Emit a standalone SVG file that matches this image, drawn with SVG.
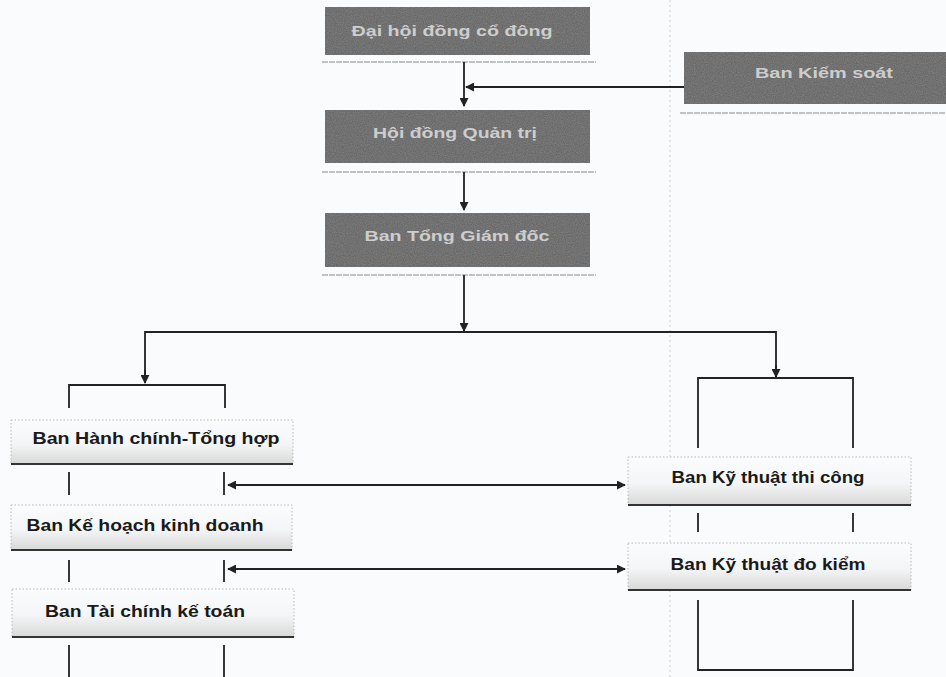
<svg xmlns="http://www.w3.org/2000/svg" width="946" height="677" viewBox="0 0 946 677">
<defs>
<filter id="noise" x="0" y="0" width="100%" height="100%">
<feTurbulence type="fractalNoise" baseFrequency="0.9" numOctaves="2" seed="3" result="t"/>
<feColorMatrix in="t" type="matrix" values="0 0 0 0 0.35  0 0 0 0 0.35  0 0 0 0 0.35  0 0 0 -1.2 1.1" result="n"/>
<feComposite in="n" in2="SourceGraphic" operator="in"/>
</filter>
<linearGradient id="lg" x1="0" y1="0" x2="0" y2="1">
<stop offset="0" stop-color="#fbfcfd"/>
<stop offset="0.55" stop-color="#f4f5f6"/>
<stop offset="1" stop-color="#d8d8d8"/>
</linearGradient>
<marker id="ah" viewBox="0 0 10 10" refX="9" refY="5" markerWidth="9" markerHeight="9" markerUnits="userSpaceOnUse" orient="auto-start-reverse">
<path d="M0,0 L10,5 L0,10 z" fill="#222"/>
</marker>
</defs>
<style>
.dark{fill:#626262;}
.dtxt{font-family:"Liberation Sans",Arial,sans-serif;font-size:15px;fill:#cdcdcd;text-anchor:middle;font-weight:bold;}
.light{fill:url(#lg);stroke:#b8b8b8;stroke-width:1;stroke-dasharray:1.5 2;}
.base{stroke:#333;stroke-width:2;fill:none;}
.ltxt{font-family:"Liberation Sans",Arial,sans-serif;font-size:17px;fill:#1a1a1a;text-anchor:middle;font-weight:bold;}
.ln{stroke:#222;stroke-width:1.8;fill:none;}
.ul{stroke:#888;stroke-width:1;stroke-dasharray:6 1;}
.guide{stroke:#cfcfcf;stroke-width:1;stroke-dasharray:2 3;}
</style>
<rect width="946" height="677" fill="#fafbfc"/>
<line class="guide" x1="670" y1="0" x2="670" y2="677"/>

<g id="n-dhdcd">
<rect class="dark" x="325" y="7" width="265" height="48"/>
<rect x="325" y="7" width="265" height="48" fill="#000" filter="url(#noise)" opacity="0.5"/>
<text class="dtxt" x="452" y="36" textLength="201" lengthAdjust="spacingAndGlyphs">Đại hội đồng cổ đông</text>
<line class="ul" x1="322" y1="62" x2="596" y2="62"/>
</g>
<g id="n-bks">
<rect class="dark" x="684" y="52" width="262" height="52"/>
<rect x="684" y="52" width="262" height="52" fill="#000" filter="url(#noise)" opacity="0.5"/>
<text class="dtxt" x="824" y="78" textLength="138" lengthAdjust="spacingAndGlyphs">Ban Kiểm soát</text>
<line class="ul" x1="680" y1="113" x2="946" y2="113"/>
</g>
<g id="n-hdqt">
<rect class="dark" x="325" y="110" width="265" height="53"/>
<rect x="325" y="110" width="265" height="53" fill="#000" filter="url(#noise)" opacity="0.5"/>
<text class="dtxt" x="455" y="138" textLength="164" lengthAdjust="spacingAndGlyphs">Hội đồng Quản trị</text>
<line class="ul" x1="322" y1="172" x2="596" y2="172"/>
</g>
<g id="n-btgd">
<rect class="dark" x="325" y="213" width="265" height="54"/>
<rect x="325" y="213" width="265" height="54" fill="#000" filter="url(#noise)" opacity="0.5"/>
<text class="dtxt" x="457" y="241" textLength="185" lengthAdjust="spacingAndGlyphs">Ban Tổng Giám đốc</text>
<line class="ul" x1="322" y1="275" x2="596" y2="275"/>
</g>

<g id="n-hcth">
<rect class="light" x="11" y="420" width="282" height="44"/>
<line class="base" x1="11" y1="464" x2="293" y2="464"/>
<text class="ltxt" x="156" y="444" textLength="247" lengthAdjust="spacingAndGlyphs">Ban Hành chính-Tổng hợp</text>
</g>
<g id="n-khkd">
<rect class="light" x="11" y="505" width="281" height="45"/>
<line class="base" x1="11" y1="550" x2="292" y2="550"/>
<text class="ltxt" x="145" y="531" textLength="237" lengthAdjust="spacingAndGlyphs">Ban Kế hoạch kinh doanh</text>
</g>
<g id="n-tckt">
<rect class="light" x="12" y="589" width="282" height="48"/>
<line class="base" x1="12" y1="637" x2="294" y2="637"/>
<text class="ltxt" x="145" y="617" textLength="200" lengthAdjust="spacingAndGlyphs">Ban Tài chính kế toán</text>
</g>
<g id="n-ktkc">
<rect class="light" x="628" y="457" width="283" height="48"/>
<line class="base" x1="628" y1="505" x2="911" y2="505"/>
<text class="ltxt" x="768" y="483" textLength="193" lengthAdjust="spacingAndGlyphs">Ban Kỹ thuật thi công</text>
</g>
<g id="n-ktdk">
<rect class="light" x="628" y="543" width="283" height="47"/>
<line class="base" x1="628" y1="590" x2="911" y2="590"/>
<text class="ltxt" x="768" y="570" textLength="195" lengthAdjust="spacingAndGlyphs">Ban Kỹ thuật đo kiểm</text>
</g>

<g id="connectors">
<line class="ln" x1="464" y1="62" x2="464" y2="106" marker-end="url(#ah)"/>
<line class="ln" x1="684" y1="87" x2="466" y2="87" marker-end="url(#ah)"/>
<line class="ln" x1="464" y1="172" x2="464" y2="210" marker-end="url(#ah)"/>
<line class="ln" x1="464" y1="275" x2="464" y2="331" marker-end="url(#ah)"/>
<polyline class="ln" points="145,382 145,332 776,332 776,377"/>
<line class="ln" x1="145" y1="370" x2="145" y2="383" marker-end="url(#ah)"/>
<line class="ln" x1="776" y1="365" x2="776" y2="377" marker-end="url(#ah)"/>
<polyline class="ln" points="69,408 69,385 225,385 225,408"/>
<line class="ln" x1="69" y1="472" x2="69" y2="495"/>
<line class="ln" x1="224" y1="472" x2="224" y2="495"/>
<line class="ln" x1="69" y1="560" x2="69" y2="582"/>
<line class="ln" x1="224" y1="560" x2="224" y2="582"/>
<line class="ln" x1="69" y1="645" x2="69" y2="677"/>
<line class="ln" x1="224" y1="645" x2="224" y2="677"/>
<line class="ln" x1="228" y1="485" x2="625" y2="485" marker-start="url(#ah)" marker-end="url(#ah)"/>
<line class="ln" x1="228" y1="569" x2="625" y2="569" marker-start="url(#ah)" marker-end="url(#ah)"/>
<polyline class="ln" points="698,448 698,378 853,378 853,448"/>
<line class="ln" x1="698" y1="513" x2="698" y2="532"/>
<line class="ln" x1="853" y1="513" x2="853" y2="532"/>
<polyline class="ln" points="698,600 698,670 853,670 853,600"/>
</g>
</svg>
